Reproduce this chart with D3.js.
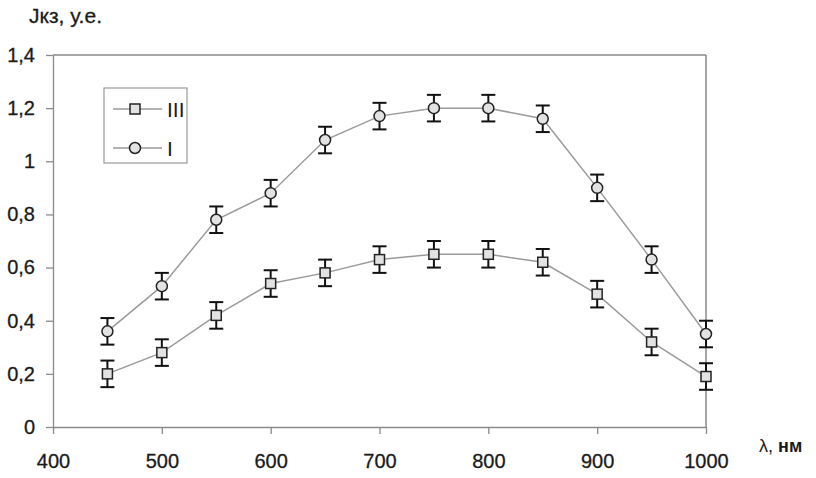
<!DOCTYPE html>
<html><head><meta charset="utf-8">
<script src="https://cdn.jsdelivr.net/npm/d3@7"></script>
<style>body{margin:0;background:#fff}svg{display:block;font-family:"Liberation Sans",Arial,sans-serif}</style>
</head><body><svg id="c" width="816" height="478"></svg>
<script>
const wavelengths = [450,500,550,600,650,700,750,800,850,900,950,1000];
const seriesI   = [0.36,0.53,0.78,0.88,1.08,1.17,1.20,1.20,1.16,0.90,0.63,0.35];
const seriesIII = [0.20,0.28,0.42,0.54,0.58,0.63,0.65,0.65,0.62,0.50,0.32,0.19];
const errI   = [0.05,0.05,0.05,0.05,0.05,0.05,0.05,0.05,0.05,0.05,0.05,0.05];
const errIII = [0.05,0.05,0.05,0.05,0.05,0.05,0.05,0.05,0.05,0.05,0.05,0.05];
const xTicks = [400,500,600,700,800,900,1000];
const yTicks = [0,0.2,0.4,0.6,0.8,1.0,1.2,1.4];
const legendNames = ["III","I"];

const svg = d3.select("#c");
const L=53,R=706,T=55,B=427;
const x = d3.scaleLinear().domain([400,1000]).range([L,R]);
const y = d3.scaleLinear().domain([0,1.4]).range([B,T]);
const axisCol="#8a8a8a", textCol="#1a1a1a";
const fmt = v => String(+v.toFixed(1)).replace('.',',');

svg.append("line").attr("x1",L).attr("x2",R).attr("y1",T).attr("y2",T).attr("stroke",axisCol).attr("stroke-width",1.5);
svg.append("line").attr("x1",R).attr("x2",R).attr("y1",T).attr("y2",B).attr("stroke",axisCol).attr("stroke-width",1.5);

const ya = svg.append("g").attr("transform",`translate(${L},0)`)
  .call(d3.axisLeft(y).tickValues(yTicks).tickSize(7).tickSizeOuter(0).tickPadding(11).tickFormat(fmt));
const xa = svg.append("g").attr("transform",`translate(0,${B})`)
  .call(d3.axisBottom(x).tickValues(xTicks).tickSize(7).tickSizeOuter(0).tickPadding(20).tickFormat(d3.format("d")));
[ya,xa].forEach(g=>{
  g.selectAll("path,line").attr("stroke",axisCol).attr("stroke-width",1.3);
  g.selectAll("text").attr("fill",textCol).attr("font-size",20).attr("stroke",textCol).attr("stroke-width",0.3);
});

svg.append("text").attr("x",29).attr("y",23).attr("font-size",21).attr("fill",textCol).attr("stroke",textCol).attr("stroke-width",0.3).text("Jкз, у.е.");
const xt = svg.append("text").attr("x",759).attr("y",452).attr("font-size",18).attr("fill",textCol);
xt.append("tspan").text("λ, ");
xt.append("tspan").attr("font-weight","bold").text("нм");

function drawSeries(vals, errs, shape){
  const pts = wavelengths.map((w,i)=>({w,v:vals[i],e:errs[i]}));
  svg.append("path").datum(pts)
    .attr("d", d3.line().x(d=>x(d.w)).y(d=>y(d.v)))
    .attr("fill","none").attr("stroke","#9a9a9a").attr("stroke-width",1.5);
  const g = svg.append("g");
  const eb = g.selectAll("g.eb").data(pts).join("g").attr("stroke","#111").attr("stroke-width",2);
  eb.append("line").attr("x1",d=>x(d.w)).attr("x2",d=>x(d.w)).attr("y1",d=>y(d.v-d.e)).attr("y2",d=>y(d.v+d.e));
  eb.append("line").attr("x1",d=>x(d.w)-7).attr("x2",d=>x(d.w)+7).attr("y1",d=>y(d.v-d.e)).attr("y2",d=>y(d.v-d.e));
  eb.append("line").attr("x1",d=>x(d.w)-7).attr("x2",d=>x(d.w)+7).attr("y1",d=>y(d.v+d.e)).attr("y2",d=>y(d.v+d.e));
  drawMarker(g.selectAll("g.m").data(pts).join("g").attr("transform",d=>`translate(${x(d.w)},${y(d.v)})`), shape);
}
function drawMarker(sel, shape){
  if(shape==="square"){
    sel.append("rect").attr("x",-5).attr("y",-5).attr("width",10).attr("height",10)
      .attr("fill","#e2e2e2").attr("stroke","#222").attr("stroke-width",1.5);
  } else {
    sel.append("circle").attr("r",5.5).attr("fill","#e2e2e2").attr("stroke","#222").attr("stroke-width",1.5);
  }
}
drawSeries(seriesIII, errIII, "square");
drawSeries(seriesI, errI, "circle");

svg.append("rect").attr("x",104).attr("y",88).attr("width",83).attr("height",75)
  .attr("fill","#fff").attr("stroke","#999").attr("stroke-width",1.2);
const shapes=["square","circle"], ly=[109,148];
legendNames.forEach((n,i)=>{
  svg.append("line").attr("x1",113).attr("x2",162).attr("y1",ly[i]).attr("y2",ly[i]).attr("stroke","#9a9a9a").attr("stroke-width",1.5);
  drawMarker(svg.append("g").attr("transform",`translate(135,${ly[i]})`), shapes[i]);
  svg.append("text").attr("x",167).attr("y",ly[i]+8).attr("font-size",21).attr("fill",textCol).text(n);
});
</script></body></html>
